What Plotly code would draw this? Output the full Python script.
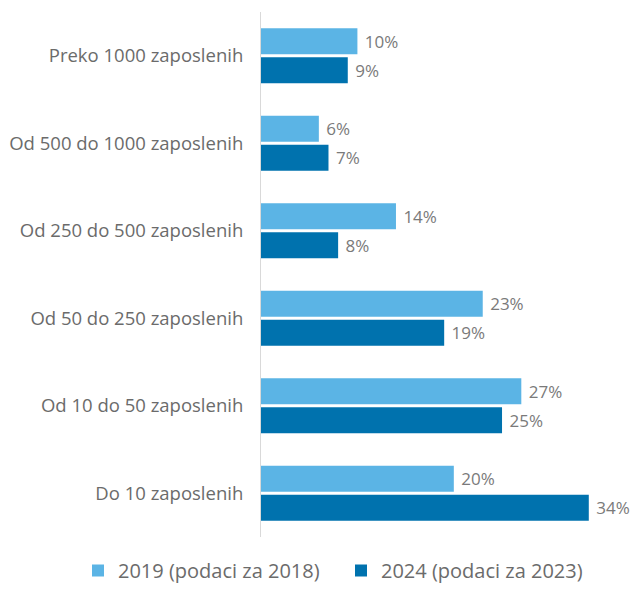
import plotly.graph_objects as go

categories = [
    "Preko 1000 zaposlenih",
    "Od 500 do 1000 zaposlenih",
    "Od 250 do 500 zaposlenih",
    "Od 50 do 250 zaposlenih",
    "Od 10 do 50 zaposlenih",
    "Do 10 zaposlenih",
]
series_2019 = [10, 6, 14, 23, 27, 20]
series_2024 = [9, 7, 8, 19, 25, 34]
name_2019 = "2019 (podaci za 2018)"
name_2024 = "2024 (podaci za 2023)"

FONT = "Open Sans, Segoe UI, sans-serif"
LABEL_COLOR = "#7a7a7a"
W, H = 633, 582

fig = go.Figure()
for name, vals, color, leg in [
    (name_2019, series_2019, "#5bb4e5", "legend"),
    (name_2024, series_2024, "#0072ae", "legend2"),
]:
    fig.add_trace(go.Bar(
        y=categories, x=vals, name=name, orientation="h",
        marker=dict(color=color, line=dict(width=0)),
        text=["\u00a0" + f"{v}%" for v in vals],
        textposition="outside", cliponaxis=False,
        textfont=dict(family=FONT, size=17, color=LABEL_COLOR),
        hoverinfo="skip", legend=leg,
    ))

legend_common = dict(orientation="h", xref="container", yref="container",
                     y=0.0, yanchor="bottom", xanchor="left",
                     font=dict(family=FONT, size=20, color="#6b6b6b"),
                     itemwidth=30, bgcolor="rgba(0,0,0,0)")

fig.update_layout(
    width=W, height=H,
    margin=dict(l=253, r=4, t=4, b=53, autoexpand=False),
    paper_bgcolor="white", plot_bgcolor="white",
    barmode="group", bargap=0.34, bargroupgap=0.1,
    font=dict(family=FONT, color="#6b6b6b"),
    showlegend=True,
    legend=dict(x=70 / W, **legend_common),
    legend2=dict(x=333 / W, **legend_common),
    xaxis=dict(range=[0, 39], visible=False, showgrid=False, zeroline=False),
    yaxis=dict(autorange="reversed", showline=True, linecolor="#d9d9d9",
               linewidth=1, showgrid=False, ticks="", automargin=False,
               ticklabelstandoff=13,
               tickfont=dict(family=FONT, size=18.5, color="#6b6b6b")),
)

fig.write_html("out.html")
